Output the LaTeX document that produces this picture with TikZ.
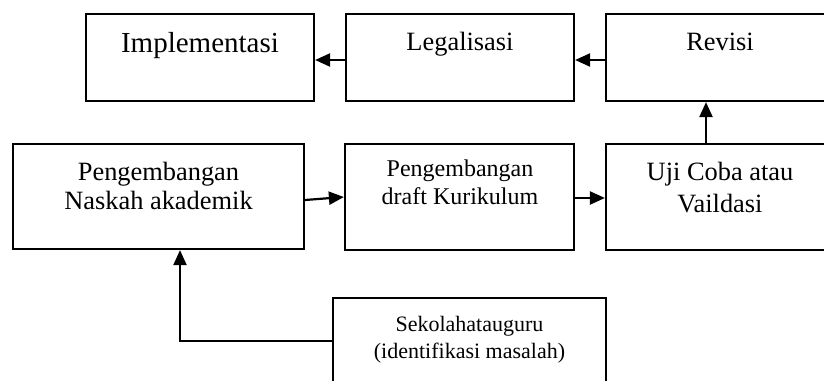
\documentclass[tikz,border=0pt]{standalone}
\usepackage{fontspec}
\setmainfont{Liberation Serif}
\usetikzlibrary{arrows.meta}
\begin{document}
\begin{tikzpicture}[x=1pt,y=-1pt,
  box/.style={draw=black, line width=2.2pt, rectangle, inner sep=0pt},
  lbl/.style={anchor=base, inner sep=0pt},
  big/.style={font=\fontsize{29}{33}\selectfont},
  mid/.style={font=\fontsize{26.4}{30}\selectfont},
  sml/.style={font=\fontsize{24}{28}\selectfont},
  tiny/.style={font=\fontsize{22}{26}\selectfont},
  arr/.style={line width=2.2pt, -{Triangle[length=15pt,width=13pt]}}]
\useasboundingbox (0,0) rectangle (824,380);
\clip (0,0) rectangle (824,380);
\fill[white] (0,0) rectangle (824,380);
% boxes
\node[box, minimum width=228pt, minimum height=87pt] (impl) at (200,57.5) {};
\node[box, minimum width=228pt, minimum height=87pt] (legal) at (460,57.5) {};
\node[box, minimum width=228pt, minimum height=87pt] (rev) at (720,57.5) {};
\node[box, minimum width=291pt, minimum height=105pt] (nask) at (158.5,196.5) {};
\node[box, minimum width=229pt, minimum height=106pt] (draft) at (459.5,197) {};
\node[box, minimum width=228pt, minimum height=106pt] (uji) at (720,197) {};
\node[box, minimum width=273pt, minimum height=110pt] (sek) at (469.5,353) {};
% labels
\node[lbl, big] (t1) at (200,52) {Implementasi};
\node[lbl, mid] (t2) at (460,50) {Legalisasi};
\node[lbl, mid] (t3) at (720,50) {Revisi};
\node[lbl, mid] (t4a) at (158.5,180) {Pengembangan};
\node[lbl, mid] (t4b) at (158.5,209) {Naskah akademik};
\node[lbl, sml] (t5a) at (460,176) {Pengembangan};
\node[lbl, sml] (t5b) at (460,204) {draft Kurikulum};
\node[lbl, mid] (t6a) at (720,180) {Uji Coba atau};
\node[lbl, mid] (t6b) at (720,212) {Vaildasi};
\node[lbl, tiny] (t7a) at (469.5,331) {Sekolahatauguru};
\node[lbl, tiny] (t7b) at (469.5,358) {(identifikasi masalah)};
% helper coordinates
\coordinate (yTop) at (0,60);
\coordinate (xUp) at (706,0);
\coordinate (yA) at (0,200);
\coordinate (yB) at (0,197);
\coordinate (yC) at (0,198);
\coordinate (yS) at (0,341);
\coordinate (xL) at (180,0);
\coordinate (bend) at (180,341);
% connectors
\draw[arr] (legal.west |- yTop) -- (impl.east |- yTop);
\draw[arr] (rev.west |- yTop) -- (legal.east |- yTop);
\draw[arr] (uji.north -| xUp) -- (rev.south -| xUp);
\draw[arr] (nask.east |- yA) -- (draft.west |- yB);
\draw[arr] (draft.east |- yC) -- (uji.west |- yC);
\draw[arr] (sek.west |- yS) -- (bend) -- (nask.south -| xL);
\end{tikzpicture}
\end{document}
